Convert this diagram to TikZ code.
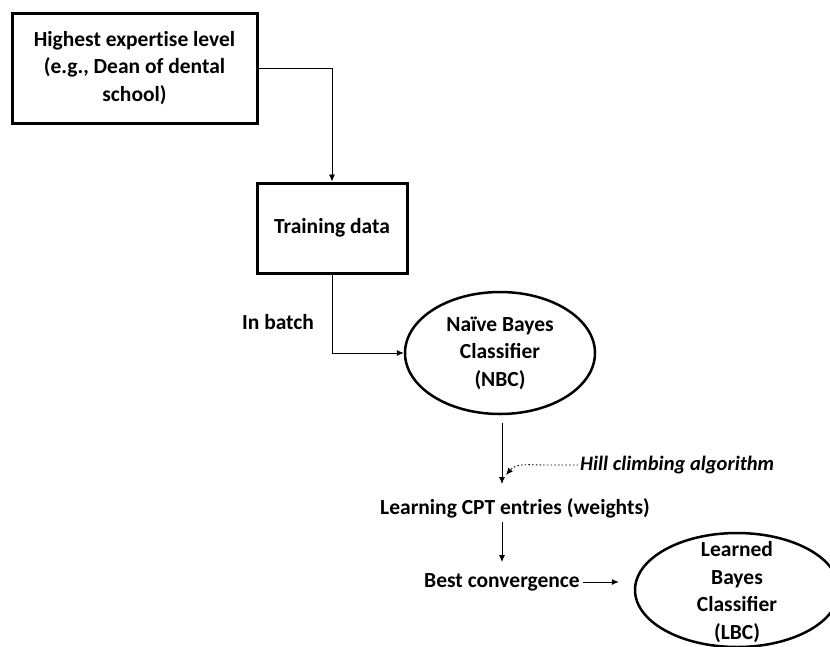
\documentclass[tikz,border=0pt]{standalone}
\usepackage{fontspec}
\setmainfont{Carlito}
\usetikzlibrary{arrows.meta,shapes.geometric}
\begin{document}
\begin{tikzpicture}[x=1pt,y=1pt,
  txt/.style={font=\fontsize{21.5}{27.5}\selectfont\bfseries, align=center, inner sep=0pt},
  boxnode/.style={txt, draw, line width=3pt, rectangle},
  ellnode/.style={txt, draw, line width=2.5pt, ellipse},
  arr/.style={line width=0.8pt, -{Latex[length=7pt,width=6pt]}},
  dotarr/.style={line width=0.9pt, dash pattern=on 1.5pt off 2.2pt, -{Latex[length=7pt,width=6pt]}}
]
\useasboundingbox (0,0) rectangle (830,-646);
\node[boxnode, minimum width=245, minimum height=110] (h) at (134.5,-68) {Highest expert\kern0pt ise level\\(e.g., Dean of dental\\school)};
\node[boxnode, minimum width=150, minimum height=90] (t) at (332,-228) {Training data};
\node[txt] (ib) at (278,-322) {In batch};
\node[ellnode, minimum width=190, minimum height=122] (nbc) at (500,-353) {Naïve Bayes\\Classifier\\(NBC)};
\node[txt, font=\fontsize{20.5}{27}\selectfont\bfseries\itshape, anchor=west, inner sep=2pt] (hill) at (578,-465) {Hill climbing algorithm};
\node[txt] (learn) at (515,-508) {Learning CPT entries (weights)};
\node[txt] (bc) at (502,-582) {Best convergence};
\node[ellnode, minimum width=204, minimum height=114] (lbc) at (737,-590) {};
\node[txt] (lbct) at (737,-592) {Learned\\Bayes\\Classifier\\(LBC)};
\coordinate (hc) at (506,-475);
\draw[arr] (h.east) -| (t.north);
\draw[arr] (t.south) |- (nbc.west);
\draw[arr, shorten <=8pt, shorten >=14pt] (nbc.south -| bc.north) -- (learn.north -| bc.north);
\draw[dotarr] (hill.west) -- ++(-32,0) to[out=180, in=50] (hc);
\draw[arr, shorten <=4pt, shorten >=11pt] (learn.south -| bc.north) -- (bc.north);
\draw[arr, shorten <=3pt, shorten >=15pt] (bc.east) -- (bc.east -| lbc.west);
\end{tikzpicture}
\end{document}
